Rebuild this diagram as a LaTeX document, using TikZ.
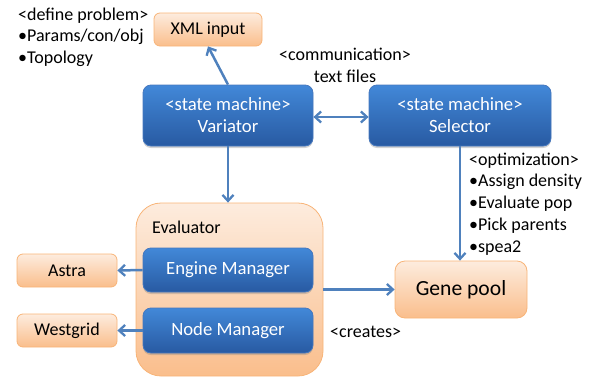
\documentclass[tikz,border=0pt]{standalone}
\usepackage{fontspec}
\setmainfont{Carlito}
\usetikzlibrary{arrows.meta,positioning,shadows}
\definecolor{orangetop}{RGB}{253,236,222}
\definecolor{orangebot}{RGB}{250,190,140}
\definecolor{orangeedge}{RGB}{248,180,120}
\definecolor{bluetop}{RGB}{66,136,216}
\definecolor{bluebot}{RGB}{40,90,162}
\definecolor{blueedge}{RGB}{70,120,190}
\definecolor{flowblue}{RGB}{79,129,189}
\tikzset{
  orangebox/.style={draw=orangeedge, line width=0.8pt, top color=orangetop, bottom color=orangebot, rounded corners=6pt, inner sep=0pt},
  bluebox/.style={draw=blueedge, line width=0.8pt, top color=bluetop, bottom color=bluebot, rounded corners=8pt, inner sep=0pt, text=white, align=center,
    font=\fontsize{18.7}{22}\selectfont, drop shadow={opacity=0.35, shadow xshift=0pt, shadow yshift=-2pt}},
  flow/.style={draw=flowblue, line width=2.5pt, >={Straight Barb[length=6pt,width=11pt,line width=2.3pt]}},
  note/.style={align=left, inner sep=0pt, anchor=base west}
}
\begin{document}
\begin{tikzpicture}[x=1pt, y=-1pt, font=\fontsize{18}{21.5}\selectfont]
		\useasboundingbox (0, 0) rectangle (589, 378);
		
		% outer boxes
		\node[orangebox, minimum width=108, minimum height=33] (xml) at (208, 29.5) {XML input};
		\node[orangebox, rounded corners=25pt, minimum width=187, minimum height=173] (eval) at (229.5, 289.5) {};
		\node[anchor=base west, inner sep=0pt] (evaltxt) at (152, 233) {Evaluator};
		\node[orangebox, minimum width=100, minimum height=33] (astra) at (67, 270.5) {Astra};
		\node[orangebox, minimum width=100, minimum height=33] (west) at (67, 330.5) {Westgrid};
		\node[orangebox, rounded corners=10pt, minimum width=132, minimum height=57, font=\fontsize{21.6}{24}\selectfont] (gene) at (461, 289.5) {Gene pool};
		
		% state machines
		\node[bluebox, minimum width=170, minimum height=61] (var) at (228, 115.5) {<state machine>\\Variator};
		\node[bluebox, minimum width=182, minimum height=61] (sel) at (460, 115.5) {<state machine>\\Selector};
		\node[bluebox, minimum width=170, minimum height=44] (eng) at (228, 270) {Engine Manager};
		\node[bluebox, minimum width=170, minimum height=45] (nodem) at (228, 330.5) {Node Manager};
		
		% notes (base = last line)
		\node[note] (define) at (18, 63) {<define problem>\\\textbullet Params/con/obj\\\textbullet Topology};
		\node[align=center, inner sep=0pt, anchor=base] (comm) at (345, 82) {<communication>\\text files};
		\node[note, font=\fontsize{18}{21.75}\selectfont] (optim) at (469, 252) {<optimization>\\\textbullet Assign density\\\textbullet Evaluate pop\\\textbullet Pick parents\\\textbullet spea2};
		\node[anchor=base west, inner sep=0pt] (creates) at (330, 337) {<creates>};
		
		% arrows
		\draw[flow, ->] (var.north) -- (xml.south);
		\draw[flow, <->] ([yshift=-1.5pt]var.east) -- ([yshift=-1.5pt]sel.west);
		\draw[flow, ->] (var.south) -- (var.south |- eval.north);
		\draw[flow, ->] (sel.south) -- (sel.south |- gene.north);
		\draw[flow, ->] (eval.east) -- (gene.west);
		\draw[flow, ->] (eng.west) -- (astra.east);
		\draw[flow, ->] (nodem.west) -- (west.east);
		
	\end{tikzpicture}
\end{document}
